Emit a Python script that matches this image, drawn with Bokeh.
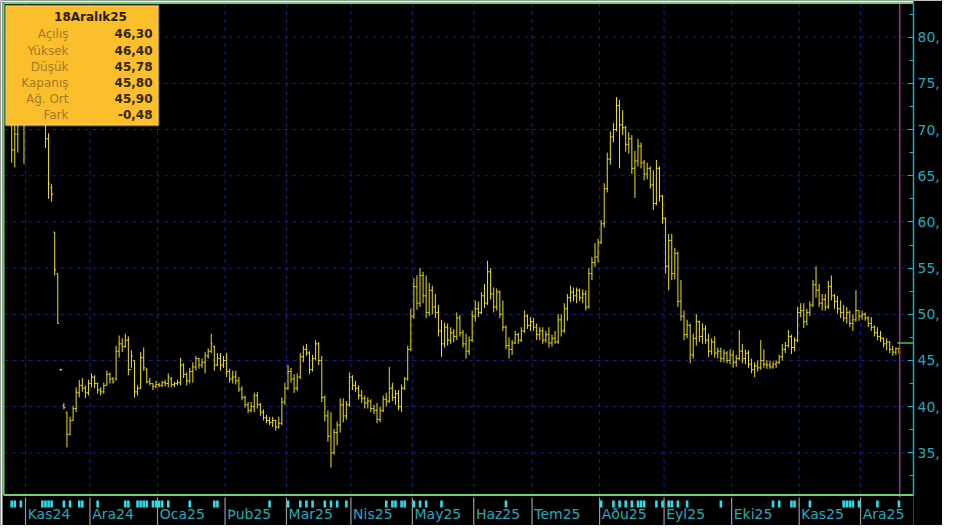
import numpy as np
from bokeh.plotting import figure
from bokeh.models import BoxAnnotation, Label, FixedTicker, Range1d
from bokeh.core.properties import value
from bokeh.embed import file_html
from bokeh.resources import INLINE

# ---------------- data (daily OHLC) ----------------
open_ = [
    # Oct24
    70.5, 67.8, 69.5, 71.8, 73.5,
    # Nov24
    71.0, 74.6, 76.9, 76.0, 74.2, 73.0, 72.2, 69.0, 63.7, 58.9, 54.4, 44.0, 40.1, 39.4, 37.0, 38.5, 39.8, 41.5, 42.3, 42.0, 41.5,
    # Dec24
    42.5, 43.2, 42.5, 41.8, 41.6, 42.3, 43.5, 43.0, 43.0, 46.0, 46.8, 46.5, 47.2, 44.0, 45.0, 41.6, 42.0, 45.3, 44.0, 42.7, 42.5, 42.2,
    # Jan25
    42.4, 42.3, 42.6, 42.5, 43.0, 42.4, 42.5, 42.6, 44.5, 43.5, 42.8, 43.8, 44.3, 45.2, 44.5, 44.8, 45.5, 46.0, 46.5, 44.5, 45.2, 44.5,
    # Feb25
    45.0, 43.8, 43.0, 43.2, 42.8, 41.9, 41.0, 40.2, 39.6, 40.0, 41.2, 40.2, 39.4, 38.8, 38.5, 38.3, 38.5, 37.8, 38.2, 40.5,
    # Mar25
    42.0, 43.8, 43.0, 42.0, 43.2, 45.4, 46.2, 45.8, 44.0, 45.2, 46.8, 45.0, 41.0, 39.0, 36.8, 35.0, 37.2, 38.0, 40.2, 39.0, 40.2,
    # Apr25
    43.2, 42.3, 42.0, 41.2, 40.9, 40.4, 40.6, 39.8, 39.6, 38.6, 39.6, 40.8, 40.6, 42.0, 41.0, 41.4, 40.0, 42.0, 43.0, 46.2,
    # May25
    49.8, 53.0, 51.2, 54.2, 52.0, 50.2, 52.6, 50.8, 50.2, 48.2, 46.8, 48.6, 47.2, 48.0, 47.6, 49.6, 48.0, 46.8, 46.0, 47.2,
    # Jun25
    49.8, 50.6, 50.2, 52.0, 51.2, 54.6, 52.2, 50.8, 52.4, 50.0, 48.6, 46.6, 46.2, 46.9, 47.8, 47.2, 48.2, 49.8, 48.8,
    # Jul25
    49.2, 48.6, 47.8, 48.2, 47.2, 47.8, 46.9, 47.4, 47.0, 49.4, 48.2, 50.6, 51.8, 52.4, 52.0, 52.6, 51.8, 52.2, 50.8, 54.4, 55.6, 56.2,
    # Aug25
    57.8, 59.8, 63.6, 66.8, 69.2, 70.0, 72.6, 70.5, 70.2, 68.4, 69.0, 65.8, 66.6, 68.2, 66.4, 65.2, 65.8, 64.0, 62.0, 65.8, 62.8,
    # Sep25
    60.4, 55.2, 58.0, 54.4, 56.6, 51.4, 49.8, 47.8, 48.8, 45.6, 47.4, 49.2, 47.6, 48.4, 47.2, 46.0, 47.0, 45.8, 46.0, 45.2, 45.8, 45.0,
    # Oct25
    45.6, 44.8, 45.2, 46.0, 45.2, 45.8, 44.6, 44.0, 44.4, 44.2, 45.0, 44.6, 44.5, 44.3, 44.6, 44.8, 45.4, 46.2, 46.6, 47.6, 46.4, 47.2,
    # Nov25
    50.2, 50.4, 49.2, 50.2, 51.0, 53.2, 52.6, 51.2, 51.6, 50.8, 53.0, 52.0, 51.4, 50.6, 50.2, 49.6, 50.2, 49.0, 49.4, 50.4,
    # Dec25
    49.8, 50.0, 49.6, 49.0, 48.6, 48.0, 47.6, 47.4, 46.8, 47.0, 46.2, 45.9, 46.30,
]
high = [
    73.0, 70.5, 72.5, 74.8, 74.0,
    75.5, 77.8, 79.0, 77.5, 76.0, 74.6, 73.5, 69.6, 64.1, 58.9, 54.4, 44.1, 40.4, 39.4, 38.9, 40.1, 42.1, 42.9, 43.1, 42.3, 42.9,
    43.6, 43.4, 42.6, 42.1, 42.6, 43.9, 43.7, 43.2, 46.6, 47.7, 47.4, 47.9, 47.6, 46.1, 45.0, 42.3, 45.9, 46.4, 44.2, 43.1, 42.5, 42.8,
    42.6, 42.8, 42.9, 43.6, 43.2, 42.7, 42.9, 45.3, 44.7, 43.7, 44.2, 44.8, 45.5, 45.3, 45.2, 45.9, 46.3, 47.9, 46.6, 45.8, 45.8, 45.5,
    45.8, 44.1, 43.9, 43.9, 43.2, 42.2, 41.2, 40.5, 40.5, 41.5, 41.6, 40.4, 39.7, 39.1, 38.9, 38.9, 38.6, 38.9, 41.0, 42.6,
    44.5, 44.2, 43.5, 43.6, 45.8, 46.6, 46.8, 46.0, 45.6, 47.2, 47.0, 45.5, 41.2, 39.6, 39.4, 37.6, 38.4, 40.9, 40.9, 40.6, 43.7,
    43.4, 42.8, 42.3, 41.8, 41.2, 41.0, 40.8, 40.2, 40.4, 40.0, 41.2, 41.5, 44.3, 42.6, 41.8, 41.8, 42.4, 43.2, 46.6, 50.6,
    53.9, 54.2, 55.0, 54.6, 54.2, 53.4, 53.1, 52.2, 51.0, 49.4, 49.1, 49.0, 48.6, 48.4, 50.2, 49.9, 48.3, 47.9, 47.6, 50.4,
    51.5, 51.4, 52.4, 53.3, 55.8, 55.0, 52.9, 52.8, 52.6, 51.5, 48.8, 47.5, 47.2, 48.2, 48.0, 48.6, 50.4, 50.0, 49.7,
    49.6, 49.0, 48.6, 48.6, 48.2, 48.6, 47.8, 48.2, 50.0, 50.0, 51.2, 52.2, 53.1, 52.9, 52.9, 52.8, 52.7, 52.6, 55.0, 56.2, 57.7, 58.2,
    60.2, 64.2, 67.5, 69.8, 70.7, 73.5, 73.2, 72.1, 70.4, 69.7, 69.4, 67.7, 69.0, 68.6, 66.7, 66.4, 66.0, 65.6, 66.7, 66.0, 62.9,
    60.5, 58.7, 58.7, 57.2, 56.8, 53.7, 50.4, 49.4, 49.0, 47.9, 50.0, 49.3, 49.0, 48.8, 47.9, 47.4, 47.6, 46.4, 46.4, 46.2, 46.0, 46.2,
    46.1, 45.6, 48.3, 46.8, 46.2, 46.1, 45.2, 44.8, 45.0, 47.2, 46.2, 45.0, 45.0, 44.9, 45.0, 45.6, 46.8, 47.0, 48.3, 47.8, 47.5, 50.8,
    51.2, 51.2, 50.6, 51.4, 53.7, 55.2, 53.3, 52.2, 52.2, 53.6, 54.2, 52.2, 52.0, 51.5, 51.0, 50.8, 50.4, 50.0, 52.6, 50.4,
    50.4, 50.2, 49.8, 49.7, 48.8, 48.6, 48.2, 47.5, 47.4, 47.1, 46.6, 46.4, 46.40,
]
low = [
    66.4, 65.9, 67.5, 70.6, 66.3,
    70.8, 73.8, 75.2, 73.6, 72.4, 71.0, 68.0, 62.5, 62.2, 54.2, 49.0, 43.9, 39.7, 35.6, 36.9, 38.5, 39.4, 41.0, 41.6, 40.9, 41.2,
    42.1, 42.0, 41.4, 41.2, 41.4, 42.3, 42.5, 42.5, 42.8, 45.3, 45.9, 46.4, 43.4, 44.2, 41.0, 41.2, 41.9, 43.9, 42.5, 42.3, 41.8, 42.0,
    42.1, 42.1, 42.2, 42.1, 42.1, 42.1, 42.3, 42.3, 43.1, 42.3, 42.5, 42.6, 43.9, 44.1, 44.2, 43.6, 45.2, 45.8, 43.9, 44.4, 43.9, 44.2,
    43.2, 42.6, 42.5, 42.4, 41.6, 40.7, 39.9, 39.3, 39.4, 39.4, 39.8, 39.0, 38.5, 38.2, 38.0, 37.8, 37.4, 37.6, 38.0, 40.2,
    41.8, 42.6, 41.5, 41.7, 43.0, 44.8, 45.5, 43.5, 43.8, 45.0, 44.5, 40.5, 38.4, 36.2, 33.4, 34.8, 35.8, 37.2, 38.3, 38.6, 40.0,
    41.8, 41.6, 40.8, 40.4, 39.8, 39.8, 39.4, 39.2, 38.2, 38.3, 39.4, 40.0, 40.4, 40.6, 40.2, 39.6, 39.4, 41.8, 42.8, 46.0,
    49.5, 50.5, 50.8, 51.2, 49.6, 49.8, 50.0, 49.6, 47.6, 45.4, 46.4, 46.6, 46.8, 47.0, 47.2, 47.6, 46.4, 45.2, 45.6, 47.0,
    49.2, 49.7, 50.0, 50.7, 51.0, 51.6, 50.2, 50.4, 49.6, 48.2, 46.2, 45.2, 45.6, 46.8, 46.8, 47.0, 48.0, 48.4, 48.2,
    48.2, 47.2, 47.2, 46.8, 46.9, 46.4, 46.5, 46.8, 46.8, 47.6, 48.0, 49.3, 51.3, 51.4, 51.2, 51.4, 51.2, 50.4, 50.6, 53.7, 55.1, 55.6,
    57.6, 59.4, 63.2, 66.2, 68.6, 69.8, 65.8, 69.4, 67.6, 67.4, 65.2, 62.6, 66.0, 65.8, 64.5, 64.6, 63.6, 61.3, 61.8, 62.2, 59.8,
    54.4, 52.6, 53.7, 53.8, 50.8, 49.3, 47.2, 47.4, 44.7, 45.2, 46.6, 47.0, 46.8, 46.8, 45.4, 45.6, 45.3, 45.2, 44.8, 44.8, 44.7, 44.6,
    44.2, 44.3, 45.0, 44.7, 44.6, 44.2, 43.6, 43.2, 43.8, 44.0, 44.2, 44.1, 44.1, 44.1, 44.2, 44.6, 45.0, 45.8, 46.4, 45.7, 46.0, 47.0,
    49.7, 48.5, 48.8, 49.8, 50.8, 51.8, 50.8, 50.4, 50.4, 50.6, 51.5, 50.6, 50.1, 49.6, 49.2, 49.0, 48.6, 48.2, 49.2, 49.3,
    49.4, 49.3, 48.6, 48.2, 47.6, 47.2, 47.0, 46.4, 46.1, 45.8, 45.5, 45.6, 45.78,
]
close = [
    67.8, 69.5, 71.8, 73.5, 70.8,
    74.6, 76.9, 76.0, 74.2, 73.0, 72.2, 69.0, 64.1, 63.0, 54.8, 49.0, 44.0, 39.9, 37.0, 38.5, 39.8, 41.5, 42.3, 42.0, 41.5, 42.5,
    43.2, 42.5, 41.8, 41.6, 42.3, 43.5, 43.0, 42.7, 46.0, 46.8, 46.5, 47.2, 44.0, 45.5, 41.6, 42.0, 45.3, 44.2, 42.7, 42.5, 42.2, 42.4,
    42.3, 42.6, 42.5, 43.2, 42.4, 42.5, 42.6, 44.5, 43.5, 42.8, 43.8, 44.3, 45.2, 44.5, 44.8, 45.5, 46.0, 46.8, 44.5, 45.2, 44.5, 45.0,
    43.8, 43.0, 43.2, 42.8, 41.9, 41.0, 40.2, 39.6, 40.0, 41.2, 40.2, 39.4, 38.8, 38.5, 38.3, 38.5, 37.8, 38.2, 40.5, 42.0,
    43.8, 43.0, 42.0, 43.2, 45.4, 46.2, 45.8, 44.0, 45.2, 46.8, 45.0, 41.0, 39.0, 36.8, 35.0, 37.2, 38.0, 40.2, 39.0, 40.2, 43.2,
    42.3, 42.0, 41.2, 40.9, 40.4, 40.6, 39.8, 39.6, 38.6, 39.6, 40.8, 40.6, 42.0, 41.0, 41.4, 40.0, 42.0, 43.0, 46.2, 49.8,
    53.0, 51.2, 54.2, 52.0, 50.2, 52.6, 50.8, 50.2, 48.2, 46.8, 48.6, 47.2, 48.0, 47.6, 49.6, 48.0, 46.8, 46.0, 47.2, 49.8,
    50.6, 50.2, 52.0, 51.2, 54.6, 52.2, 50.8, 52.4, 50.0, 48.6, 46.6, 46.2, 46.9, 47.8, 47.2, 48.2, 49.8, 48.8, 49.2,
    48.6, 47.8, 48.2, 47.2, 47.8, 46.9, 47.4, 47.0, 49.4, 48.2, 50.6, 51.8, 52.4, 52.0, 52.6, 51.8, 52.2, 50.8, 54.4, 55.6, 56.2, 57.8,
    59.8, 63.6, 66.8, 69.2, 70.0, 72.6, 70.5, 70.2, 68.4, 69.0, 65.8, 66.6, 68.2, 66.4, 65.2, 65.8, 64.0, 62.0, 65.8, 62.8, 60.4,
    55.2, 58.0, 54.4, 56.6, 51.4, 49.8, 47.8, 48.8, 45.6, 47.4, 49.2, 47.6, 48.4, 47.2, 46.0, 47.0, 45.8, 46.0, 45.2, 45.8, 45.0, 45.6,
    44.8, 45.2, 46.0, 45.2, 45.8, 44.6, 44.0, 44.4, 44.2, 45.0, 44.6, 44.5, 44.3, 44.6, 44.8, 45.4, 46.2, 46.6, 47.6, 46.4, 47.2, 50.2,
    50.4, 49.2, 50.2, 51.0, 53.2, 52.6, 51.2, 51.6, 50.8, 53.0, 52.0, 51.4, 50.6, 50.2, 49.6, 50.2, 49.0, 49.4, 50.4, 49.8,
    50.0, 49.6, 49.0, 48.6, 48.0, 47.6, 47.4, 46.8, 47.0, 46.2, 45.9, 46.28, 45.80,
]

# trading days per month (first entry: end of Oct 2024, unlabeled)
days_per_month = [5, 21, 22, 22, 20, 21, 20, 20, 19, 22, 21, 22, 22, 20, 13]
month_labels = ["Kas24", "Ara24", "Oca25", "Þub25", "Mar25", "Nis25", "May25",
                "Haz25", "Tem25", "Aðu25", "Eyl25", "Eki25", "Kas25", "Ara25"]

# days with event markers in the bottom strip
event_days = [0, 1, 3, 10, 11, 12, 13, 17, 19, 22, 23, 28, 37, 38, 41, 42, 43, 44, 46,
              47, 48, 49, 51, 58, 66, 67, 84, 90, 94, 96, 98, 102, 104, 106, 109,
              122, 124, 125, 127, 128, 131, 133, 135, 140, 161, 192, 196, 198, 200, 202,
              204, 205, 206, 210, 212, 214, 215, 217, 220, 231, 248, 250, 254, 255, 260,
              271, 272, 273, 274, 276, 282, 289]

price_ticks = [35, 40, 45, 50, 55, 60, 65, 70, 75, 80]
price_minor = [32.5, 37.5, 42.5, 47.5, 52.5, 57.5, 62.5, 67.5, 72.5, 77.5, 82.5]
price_labels = ["35,", "40,", "45,", "50,", "55,", "60,", "65,", "70,", "75,", "80,"]

info_title = "18Aralık25"
info_names = ["Açılış", "Yüksek", "Düşük", "Kapanış", "Ağ. Ort", "Fark"]
info_values = ["46,30", "46,40", "45,78", "45,80", "45,90", "-0,48"]
marker_level = 46.9   # short green marker at the right end

# ---------------- pixel <-> data helpers (layout only) ----------------
PX_PER_BAR = 3.07
X_BAR0 = 11.2
PX_PER_UNIT = 9.236
Y_OF_80 = 36.7


def xi(px):
    return (px - X_BAR0) / PX_PER_BAR


def yv(py):
    return 80 - (py - Y_OF_80) / PX_PER_UNIT


x_start, x_end = xi(0), xi(913)
y_top, y_bot, y_main = yv(0), yv(525), yv(494.5)

BG = "#000000"
GRID = "#1c1c8c"
TEAL = "#22aabb"
YELLOW = "#ece01a"
GREEN = "#6fd36f"
CYAN = "#2fdcec"

p = figure(frame_width=913, frame_height=525, output_backend="svg", toolbar_location=None,
           x_range=Range1d(x_start, x_end), y_range=Range1d(y_bot, y_top),
           x_axis_location=None, y_axis_location="right",
           background_fill_color=BG, border_fill_color=BG, min_border=0)
p.outline_line_color = None
p.xgrid.visible = False
p.ygrid.visible = False

idx = np.arange(len(close))
starts = np.cumsum([0] + days_per_month[:-1])[1:]
seps = starts - 0.5

# white page edge strips like the reference window
p.add_layout(BoxAnnotation(left=x_start, right=xi(2), top=y_top, bottom=y_bot,
                           fill_color="#f0f0f0", fill_alpha=1.0, line_color=None, level="underlay"))
p.add_layout(BoxAnnotation(left=x_start, right=x_end, top=y_top, bottom=yv(1.5),
                           fill_color="#f0f0f0", fill_alpha=1.0, line_color=None, level="underlay"))

# grid
n_h = len(price_ticks)
p.segment(x0=[xi(4)] * n_h, x1=[x_end] * n_h, y0=price_ticks, y1=price_ticks,
          line_color=GRID, line_width=1, line_dash="4 4")
p.segment(x0=seps, x1=seps, y0=[y_main] * len(seps), y1=[yv(3)] * len(seps),
          line_color=GRID, line_width=1, line_dash="4 4")

# OHLC bars
p.segment(x0=idx, x1=idx, y0=low, y1=high, line_color=YELLOW, line_width=1)
p.segment(x0=idx - 0.45, x1=idx, y0=open_, y1=open_, line_color=YELLOW, line_width=1)
p.segment(x0=idx, x1=idx + 0.45, y0=close, y1=close, line_color=YELLOW, line_width=1)

# cursor line and last marker
last = idx[-1]
p.segment(x0=[last + 0.25], x1=[last + 0.25], y0=[yv(497)], y1=[yv(3)], line_color="#a0309a", line_width=1.5)
p.segment(x0=[last - 0.5], x1=[x_end], y0=[marker_level], y1=[marker_level], line_color="#3ccc3c", line_width=1.5)

# frame border (green)
p.segment(x0=[xi(3), xi(3), xi(3)], x1=[xi(3), x_end, x_end],
          y0=[y_main, yv(2.5), y_main], y1=[yv(2.5), yv(2.5), y_main],
          line_color=GREEN, line_width=2)

# bottom strip: separators, month labels, event markers
p.segment(x0=seps, x1=seps, y0=[yv(497)] * len(seps), y1=[y_bot] * len(seps),
          line_color="#9a9a9a", line_width=1.2)
p.text(x=seps + 0.7, y=[yv(513)] * len(seps), text=month_labels,
       text_font=value("DejaVu Sans"), text_font_size="14px", text_color=TEAL,
       text_align="left", text_baseline="middle")
ev = np.array(event_days)
p.quad(left=ev - 0.42, right=ev + 0.42, bottom=[yv(507)] * len(ev), top=[yv(500)] * len(ev),
       fill_color=CYAN, line_color=None)

# right axis
ax = p.yaxis[0]
ax.ticker = FixedTicker(ticks=price_ticks, minor_ticks=price_minor)
ax.major_label_overrides = {t: s for t, s in zip(price_ticks, price_labels)}
ax.bounds = (y_main, yv(3))
ax.axis_line_color = TEAL
ax.axis_line_width = 1.5
ax.major_tick_line_color = TEAL
ax.minor_tick_line_color = TEAL
ax.major_tick_in = 6
ax.major_tick_out = 0
ax.minor_tick_in = 4
ax.minor_tick_out = 0
ax.major_label_standoff = 4
ax.major_label_text_color = TEAL
ax.major_label_text_font = "DejaVu Sans"
ax.major_label_text_font_size = "14px"

# info box
p.add_layout(BoxAnnotation(left=xi(5), right=xi(158), top=yv(5), bottom=yv(125),
                           fill_color="#fcbf2c", fill_alpha=1.0,
                           line_color="#f4eed8", line_width=2))
p.add_layout(Label(x=xi(90), y=yv(16), text=info_title, text_align="center",
                   text_baseline="middle", text_font="DejaVu Sans", text_font_size="12px",
                   text_font_style="bold", text_color="#2a1e00"))
row_px = [33, 50, 66, 82, 98, 114]
for ry, nm, vl in zip(row_px, info_names, info_values):
    p.add_layout(Label(x=xi(68), y=yv(ry), text=nm, text_align="right", text_baseline="middle",
                       text_font="DejaVu Sans", text_font_size="12px", text_color="#a07c28"))
    p.add_layout(Label(x=xi(152), y=yv(ry), text=vl, text_align="right", text_baseline="middle",
                       text_font="DejaVu Sans", text_font_size="12px", text_font_style="bold",
                       text_color="#33260a"))

open("out.html", "w").write(file_html(p, INLINE))
